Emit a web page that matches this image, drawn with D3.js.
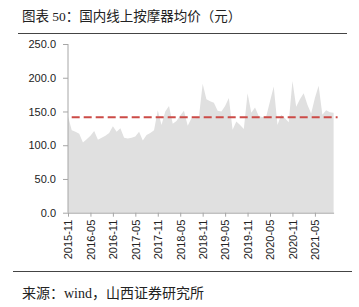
<!DOCTYPE html>
<html>
<head>
<meta charset="utf-8">
<script src="https://cdn.jsdelivr.net/npm/d3@7"></script>
<style>
  body { margin: 0; background: #fff; }
  svg { display: block; }
</style>
</head>
<body>
<script>
// monthly average price, 2015-11 .. 2021-10
const months = [];
{
  let y = 2015, m = 11;
  for (let i = 0; i < 72; i++) {
    months.push(y + '-' + String(m).padStart(2, '0'));
    m++;
    if (m > 12) { m = 1; y++; }
  }
}

const prices = [
  143, 122, 120, 117, 104, 109, 114, 121, 108, 111, 114, 118,
  128, 120, 125, 111, 110, 111, 113, 120, 107, 115, 118, 122,
  152, 130, 150, 158, 132, 136, 144, 151, 129, 140, 140, 142,
  191, 168, 165, 163, 151, 150, 158, 170, 123, 135, 130, 124,
  177, 148, 156, 143, 142, 143, 165, 187, 130, 145, 140, 134,
  195, 157, 168, 177, 160, 147, 170, 188, 145, 152, 149, 148
];

const average = 141.5;

const yTicks = [0, 50, 100, 150, 200, 250];
const xTickLabels = months.filter(function(d, i) { return i % 6 === 0; });

const width = 359, height = 307;
const margin = {left: 68, top: 44, bottom: 212.7};

const svg = d3.select('body').append('svg')
    .attr('width', width)
    .attr('height', height);

const x = d3.scalePoint()
    .domain(months)
    .range([margin.left, 333.6]);

const y = d3.scaleLinear()
    .domain([0, 250])
    .range([margin.bottom, margin.top]);

// title + rules
svg.append('text')
    .attr('x', 22)
    .attr('y', 21)
    .attr('font-family', '"Liberation Serif", "Noto Sans CJK SC"')
    .attr('font-size', 13.5)
    .attr('fill', '#222')
    .text('图表 50：国内线上按摩器均价（元）');

svg.append('line')
    .attr('x1', 18).attr('x2', 347)
    .attr('y1', 33.5).attr('y2', 33.5)
    .attr('stroke', '#444').attr('stroke-width', 1);

svg.append('line')
    .attr('x1', 13).attr('x2', 352)
    .attr('y1', 271.5).attr('y2', 271.5)
    .attr('stroke', '#444').attr('stroke-width', 1);

svg.append('text')
    .attr('x', 22)
    .attr('y', 298)
    .attr('font-family', '"Liberation Serif", "Noto Sans CJK SC"')
    .attr('font-size', 14)
    .attr('fill', '#222')
    .text('来源：wind，山西证券研究所');

// area
const area = d3.area()
    .x(function(d, i) { return x(months[i]); })
    .y0(y(0))
    .y1(function(d) { return y(d); });

svg.append('path')
    .datum(prices)
    .attr('d', area)
    .attr('fill', '#e0e0e0');

// average line
svg.append('line')
    .attr('x1', x(months[0]))
    .attr('x2', x(months[months.length - 1]) + 4)
    .attr('y1', y(average))
    .attr('y2', y(average))
    .attr('stroke', '#cc4b47')
    .attr('stroke-width', 2)
    .attr('stroke-dasharray', '8 4')
    .attr('stroke-dashoffset', 8.3);

// y axis
const yAxis = svg.append('g')
    .attr('transform', 'translate(' + margin.left + ',0)')
    .call(d3.axisLeft(y)
      .tickValues(yTicks)
      .tickSize(5)
      .tickPadding(7)
      .tickFormat(d3.format('.1f')));

// x axis
const xAxis = svg.append('g')
    .attr('transform', 'translate(0,' + margin.bottom + ')')
    .call(d3.axisBottom(x)
      .tickValues(xTickLabels)
      .tickSize(4)
      .tickSizeOuter(0));

xAxis.selectAll('text')
    .attr('transform', 'rotate(-90)')
    .attr('text-anchor', 'end')
    .attr('dy', '0.35em')
    .attr('x', -7)
    .attr('y', 0);

svg.selectAll('.domain, .tick line')
    .attr('stroke', '#a6a6a6');
yAxis.select('.domain').attr('d', 'M-0,' + y(250) + 'V' + y(0));

svg.selectAll('.tick text')
    .attr('font-family', '"Liberation Sans", Arial, sans-serif')
    .attr('font-size', 11)
    .attr('fill', '#222');
</script>
</body>
</html>
